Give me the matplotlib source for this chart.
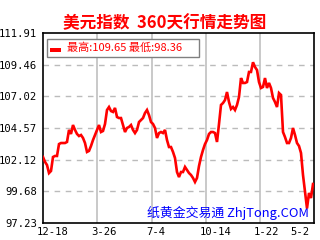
import numpy as np
import matplotlib
matplotlib.use("Agg")
import matplotlib.pyplot as plt
from matplotlib.patches import Rectangle

plt.rcParams["font.family"] = ["Noto Sans CJK SC", "DejaVu Sans"]

# %% data (one value per sample)
price = [
    102.33, 101.95, 101.71, 101.09, 101.25, 102.33, 102.41, 102.41, 103.33, 103.41,
    103.41, 103.41, 103.49, 104.42, 104.11, 104.80, 104.42, 104.11, 103.95, 104.03,
    103.80, 103.41, 102.72, 102.80, 103.18, 103.64, 104.03, 104.42, 104.80, 104.26,
    104.34, 104.88, 105.96, 106.19, 105.88, 105.81, 106.12, 105.42, 105.34, 105.34,
    104.80, 104.26, 104.57, 104.65, 104.80, 104.42, 104.18, 104.42, 105.03, 105.19,
    105.34, 105.73, 105.96, 105.57, 105.03, 104.88, 104.57, 103.80, 104.18, 104.26,
    104.18, 104.42, 103.64, 103.10, 103.10, 102.72, 102.25, 101.17, 100.78, 101.17,
    101.17, 101.56, 101.33, 101.09, 100.94, 100.71, 100.40, 100.71, 101.63, 102.33,
    102.87, 103.33, 103.64, 104.11, 104.26, 104.26, 104.18, 103.49, 104.88, 106.35,
    106.50, 106.73, 107.35, 106.58, 106.04, 106.19, 105.96, 106.35, 106.97, 108.43,
    108.05, 108.05, 108.12, 108.90, 108.90, 109.65, 109.28, 109.05, 108.12, 107.66,
    107.74, 108.43, 107.66, 108.05, 107.66, 106.89, 106.58, 106.19, 107.27, 107.12,
    104.26, 103.87, 103.41, 103.41, 103.80, 104.57, 104.03, 103.41, 103.18, 102.64,
    100.94, 99.62, 98.36, 99.55, 99.16, 100.24,
]
yticks = [97.23, 99.68, 102.12, 104.57, 107.02, 109.46, 111.91]
date_idx = [0, 27, 54.5, 81.5, 108.5, 126.5]
date_lbl = ["12-18", "3-26", "7-4", "10-14", "1-22", "5-2"]
grid_idx = [27, 54.5, 81.5, 108.5]
title = "美元指数  360天行情走势图"
hi = max(price)
lo = min(price)

# %% plot
fig = plt.figure(figsize=(3.2, 2.4), dpi=100)
ax = fig.add_axes([43 / 320, 17 / 240, 271 / 320, 190 / 240])

x = np.arange(len(price))
ax.plot(x, price, color="red", linewidth=1.9, solid_joinstyle="miter", zorder=3)

ax.set_xlim(0, 135.5)
ax.set_ylim(yticks[0], yticks[-1])

for yv in yticks[1:-1]:
    ax.axhline(yv, color="#bbbbbb", linewidth=1, linestyle=(0, (4, 4)), zorder=1)
for xv in grid_idx:
    ax.axvline(xv, color="#c0c0c0", linewidth=1.2, zorder=1)

mono = "DejaVu Sans Mono"
ax.set_yticks(yticks)
ax.set_yticklabels([f"{v:.2f}" for v in yticks], family=mono, fontsize=7.6)
ax.set_xticks([])
# date labels sit a little left of their grid line, like the original
for xi, lbl in zip(date_idx, date_lbl):
    ax.text(xi - 3, -0.045, lbl, transform=ax.get_xaxis_transform(),
            family=mono, fontsize=7.6, ha="left", va="center", clip_on=False)
ax.tick_params(axis="both", length=0, pad=4, colors="black")

for sp in ax.spines.values():
    sp.set_color("black")
    sp.set_linewidth(1.2)

fig.text(165 / 320, 1 - 23 / 240, title, color="red", fontsize=12,
         fontweight="bold", ha="center", va="center")

# legend box
ax.add_patch(Rectangle((4 / 271, 1 - 24 / 190), 152 / 271, 18 / 190,
                       transform=ax.transAxes, facecolor="white",
                       edgecolor="#808080", linewidth=1, zorder=4))
ax.add_patch(Rectangle((7 / 271, 1 - 19 / 190), 11 / 271, 4 / 190,
                       transform=ax.transAxes, facecolor="red",
                       edgecolor="none", zorder=5))
ax.text(24 / 271, 1 - 15 / 190, f"最高:{hi:.2f} 最低:{lo:.2f}",
        transform=ax.transAxes, color="red", fontsize=8, ha="left",
        va="center", zorder=5)

ax.text(104 / 271, 1 - 180 / 190, "纸黄金交易通 ZhjTong.COM",
        transform=ax.transAxes, color="#0000ff", fontsize=9.3,
        ha="left", va="center", zorder=2)

fig.savefig("out.png", dpi=100)
